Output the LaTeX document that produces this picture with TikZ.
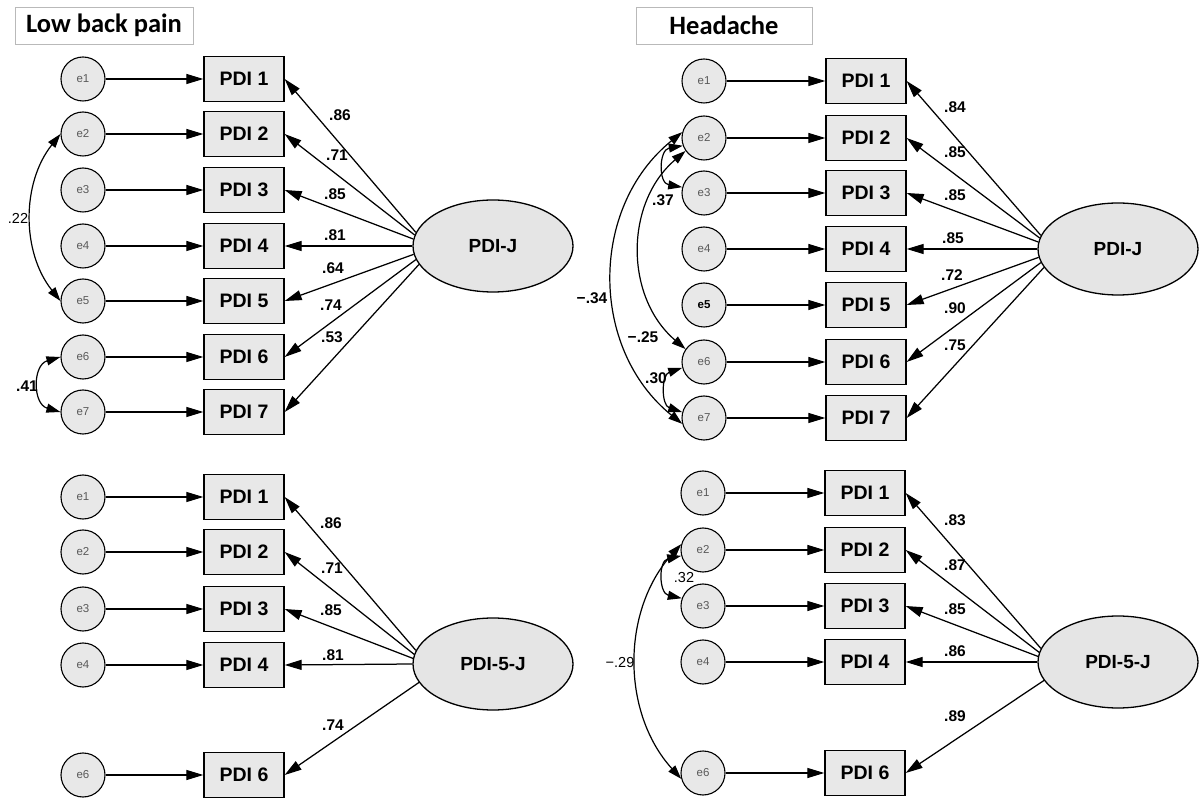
\documentclass[tikz,border=0pt]{standalone}
\usepackage{fontspec}
\setmainfont{Liberation Sans}
\newfontfamily\titlefont{Carlito}
\usetikzlibrary{arrows.meta,shapes.geometric}
\begin{document}
\begin{tikzpicture}[x=1pt,y=-1pt,
  errc/.style={circle,draw,fill=gray!18,minimum size=44pt,inner sep=0pt,line width=1.1pt,text=black!65,font=\fontsize{11.5}{11.5}\selectfont},
  obsbox/.style={rectangle,draw,fill=gray!18,minimum width=80pt,minimum height=45pt,inner sep=0pt,line width=1.3pt,font=\bfseries\fontsize{19.5}{19.5}\selectfont},
  latent/.style={ellipse,draw,fill=gray!20,minimum width=160pt,minimum height=92pt,inner sep=0pt,line width=1.3pt,font=\bfseries\fontsize{19}{19}\selectfont},
  titlebox/.style={rectangle,draw=gray!55,fill=white,line width=0.8pt,minimum height=37pt,inner sep=0pt,font=\titlefont\bfseries\fontsize{26.5}{26.5}\selectfont},
  arr/.style={-{Triangle[length=17pt,width=10pt]},line width=1.25pt},
  cov/.style={{Triangle[length=14pt,width=9pt]}-{Triangle[length=14pt,width=9pt]},line width=1.2pt},
  lab/.style={font=\bfseries\fontsize{15.5}{15.5}\selectfont,inner sep=0pt},
  labr/.style={font=\fontsize{14.5}{14.5}\selectfont,inner sep=0pt},
]
\useasboundingbox (0,0) rectangle (1203,799);
\fill[white] (0,0) rectangle (1203,799);

% titles
\node[titlebox,minimum width=178pt] (t1) at (104,25.5) {Low back pain};
\node[titlebox,minimum width=176pt] (t2) at (724,25.5) {Headache};

% ---------- top left ----------
\node[latent] (lJ) at (493,246) {PDI-J};
\foreach \i/\y in {1/79,2/134,3/190,4/246,5/301,6/357,7/412} {
  \node[errc] (la\i) at (83,\y) {e\i};
  \node[obsbox] (lp\i) at (244,\y) {PDI \i};
  \draw[arr] (la\i) -- (lp\i);
}
\foreach \i/\a in {1/170,2/172,3/175,4/180,5/186,6/190,7/194}
  \draw[arr] (lJ.\a) -- (lp\i.east);
\node[lab] (lv1) at (340,115) {.86};
\node[lab] (lv2) at (337,155) {.71};
\node[lab] (lv3) at (335,194) {.85};
\node[lab] (lv4) at (335,235) {.81};
\node[lab] (lv5) at (333,268) {.64};
\node[lab] (lv6) at (331,305) {.74};
\node[lab] (lv7) at (332,337) {.53};
\draw[cov] (la2.west) .. controls +(-39,49) and +(-39,-49) .. (la5.west);
\draw[cov] (la6.west) .. controls +(-28,8) and +(-28,-8) .. (la7.west);
\node[labr] (lc1) at (18,218) {.22};
\node[lab] (lc2) at (27,386) {.41};

% ---------- bottom left ----------
\node[latent] (lbJ) at (493,664) {PDI-5-J};
\foreach \i/\y in {1/497,2/552,3/609,4/665,6/775} {
  \node[errc] (lbe\i) at (83,\y) {e\i};
  \node[obsbox] (lbp\i) at (244,\y) {PDI \i};
  \draw[arr] (lbe\i) -- (lbp\i);
}
\foreach \i/\a in {1/170,2/173,3/176,4/180,6/194}
  \draw[arr] (lbJ.\a) -- (lbp\i.east);
\node[lab] (lbv1) at (331,523) {.86};
\node[lab] (lbv2) at (332,568) {.71};
\node[lab] (lbv3) at (331,610) {.85};
\node[lab] (lbv4) at (333,655) {.81};
\node[lab] (lbv6) at (333,725) {.74};

% ---------- top right ----------
\node[latent] (rJ) at (1118,249) {PDI-J};
\foreach \i/\y in {1/81,2/138,3/193,4/249,5/305,6/362,7/418} {
  \node[errc] (ra\i) at (704,\y) {\ifnum\i=5 \textbf{\textcolor{black}{e5}}\else e\i\fi};
  \node[obsbox] (rp\i) at (866,\y) {PDI \i};
  \draw[arr] (ra\i) -- (rp\i);
}
\foreach \i/\a in {1/170,2/172,3/175,4/180,5/186,6/190,7/194}
  \draw[arr] (rJ.\a) -- (rp\i.east);
\node[lab] (rv1) at (955,107) {.84};
\node[lab] (rv2) at (955,152) {.85};
\node[lab] (rv3) at (955,195) {.85};
\node[lab] (rv4) at (953,238) {.85};
\node[lab] (rv5) at (952,275) {.72};
\node[lab] (rv6) at (955,308) {.90};
\node[lab] (rv7) at (955,345) {.75};
\draw[cov] (ra2.200) .. controls +(-24,4) and +(-24,-4) .. (ra3.165);
\draw[cov] (ra2.215) .. controls +(-61,52) and +(-61,-52) .. (ra6.145);
\draw[cov] (ra2.165) .. controls +(-93,75) and +(-93,-75) .. (ra7.195);
\draw[cov] (ra6.195) .. controls +(-21,7) and +(-21,-7) .. (ra7.165);
\node[lab] (rc1) at (663,200) {.37};
\node[lab] (rc2) at (643,337) {−.25};
\node[lab] (rc3) at (592,298) {−.34};
\node[lab] (rc4) at (656,378) {.30};

% ---------- bottom right ----------
\node[latent] (rbJ) at (1118,662) {PDI-5-J};
\foreach \i/\y in {1/493,2/550,3/606,4/662,6/773} {
  \node[errc] (rbe\i) at (703,\y) {e\i};
  \node[obsbox] (rbp\i) at (865,\y) {PDI \i};
  \draw[arr] (rbe\i) -- (rbp\i);
}
\foreach \i/\a in {1/170,2/173,3/176,4/180,6/194}
  \draw[arr] (rbJ.\a) -- (rbp\i.east);
\node[lab] (rbv1) at (955,520) {.83};
\node[lab] (rbv2) at (955,565) {.87};
\node[lab] (rbv3) at (955,609) {.85};
\node[lab] (rbv4) at (955,651) {.86};
\node[lab] (rbv6) at (955,716) {.89};
\draw[cov] (rbe2.195) .. controls +(-23,5) and +(-23,-5) .. (rbe3.160);
\draw[cov] (rbe2.165) .. controls +(-60,66) and +(-60,-66) .. (rbe6.195);
\node[labr] (rbc1) at (684,578) {.32};
\node[labr] (rbc2) at (620,663) {−.29};
\end{tikzpicture}
\end{document}
